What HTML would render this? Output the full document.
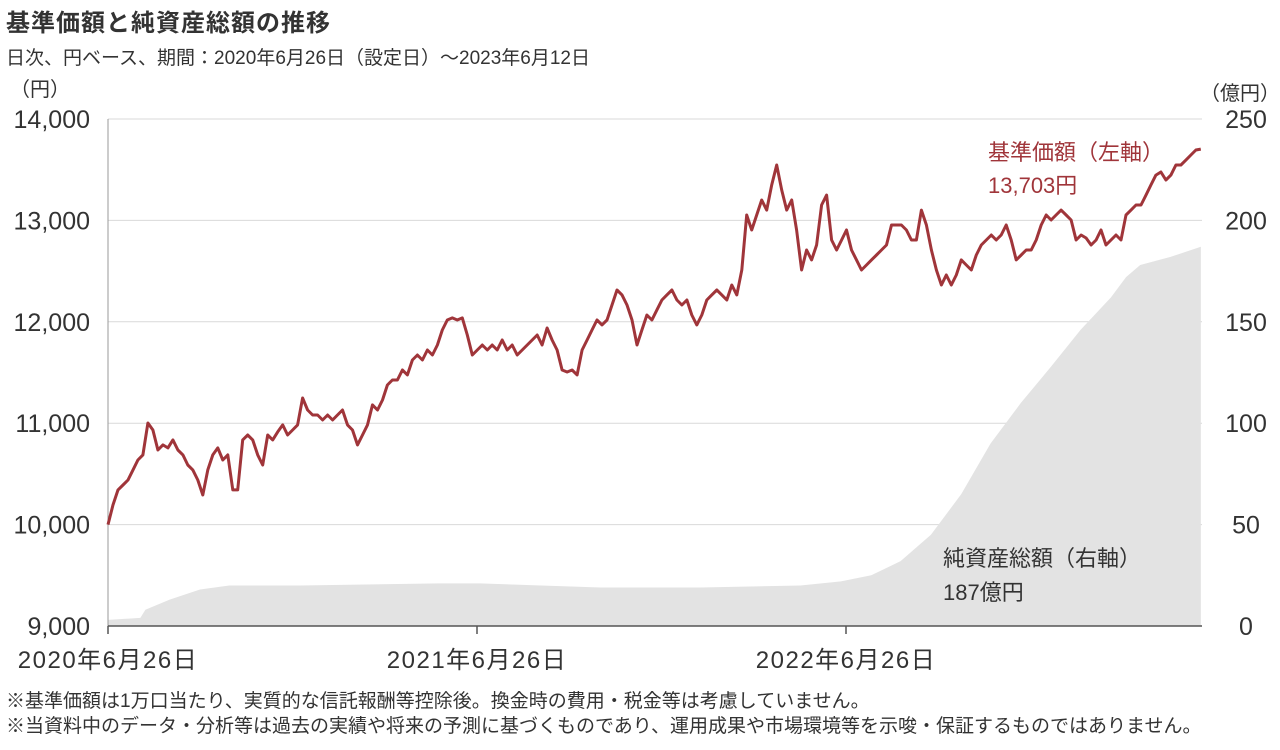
<!DOCTYPE html>
<html><head><meta charset="utf-8">
<style>
body{margin:0;background:#fff;font-family:"Liberation Sans","Noto Sans CJK JP",sans-serif;color:#333;}
#wrap{position:relative;width:1280px;height:750px;overflow:hidden;}
.t{position:absolute;white-space:nowrap;}
</style></head><body>
<div id="wrap">
<div class="t" style="left:6px;top:3px;font-size:24px;font-weight:bold;color:#333;letter-spacing:1px">基準価額と純資産総額の推移</div>
<div class="t" style="left:6px;top:43px;font-size:19px;color:#333">日次、円ベース、期間：2020年6月26日（設定日）～2023年6月12日</div>
<div class="t" style="left:6px;top:686px;font-size:19px;color:#333">※基準価額は1万口当たり、実質的な信託報酬等控除後。換金時の費用・税金等は考慮していません。</div>
<div class="t" style="left:6px;top:711px;font-size:19px;color:#333">※当資料中のデータ・分析等は過去の実績や将来の予測に基づくものであり、運用成果や市場環境等を示唆・保証するものではありません。</div>
<svg id="chart" width="1280" height="750" style="position:absolute;left:0;top:0"></svg>
</div>
<script>
const leftTicks=[9000,10000,11000,12000,13000,14000];
const rightTicks=[0,50,100,150,200,250];
const dateTickDays=[0,365,730];
const dateTickLabels=["2020年6月26日","2021年6月26日","2022年6月26日"];
const totalDays=1081;
const priceValues=[10000,10194,10342,10391,10440,10539,10637,10687,11002,10933,10736,10786,10756,10835,10736,10687,10588,10539,10440,10292,10539,10687,10756,10637,10687,10342,10342,10835,10884,10835,10687,10588,10884,10835,10914,10983,10884,10933,10983,11249,11130,11081,11081,11032,11081,11032,11081,11130,10983,10933,10786,10884,10983,11180,11130,11229,11377,11426,11426,11525,11476,11623,11673,11623,11722,11673,11771,11919,12018,12038,12018,12038,11870,11673,11722,11771,11722,11771,11722,11821,11722,11771,11673,11722,11771,11821,11870,11771,11939,11821,11722,11525,11505,11525,11476,11722,11821,11919,12018,11969,12018,12166,12314,12265,12166,12018,11771,11919,12067,12018,12117,12215,12265,12314,12215,12166,12215,12067,11969,12067,12215,12265,12314,12265,12215,12363,12265,12511,13053,12905,13053,13201,13102,13349,13546,13300,13102,13201,12905,12511,12708,12610,12757,13152,13250,12807,12708,12807,12905,12708,12610,12511,12560,12610,12659,12708,12757,12955,12955,12955,12905,12807,12807,13102,12955,12708,12511,12363,12462,12363,12462,12610,12560,12511,12659,12757,12807,12856,12807,12856,12955,12807,12610,12659,12708,12708,12807,12955,13053,13004,13053,13102,13053,13004,12807,12856,12826,12757,12807,12905,12757,12807,12856,12807,13053,13102,13152,13152,13250,13349,13447,13477,13398,13447,13546,13546,13595,13645,13694,13703];
const assetDays=[0,32,37,61,91,120,190,328,368,487,586,685,725,755,784,814,844,873,903,933,962,992,1007,1021,1051,1081];
const assetValues=[3,4,8,13,18,20,20,21,21,19,19,20,22,25,32,45,65,90,110,128,146,162,172,178,182,187];

const NS="http://www.w3.org/2000/svg";
const svg=document.getElementById('chart');
const X0=108,X1=1202,YT=119,YB=626;
const xDay=d=>X0+d*369/365;
const yL=v=>YB-(v-9000)/5000*(YB-YT);
const yR=v=>YB-v/250*(YB-YT);
function mk(tag,attrs){const e=document.createElementNS(NS,tag);for(const k in attrs)e.setAttribute(k,attrs[k]);svg.appendChild(e);return e;}

leftTicks.forEach(v=>{
  const g=mk('line',{x1:X0,x2:X1,y1:yL(v),y2:yL(v),stroke:'#d9d9d9','stroke-width':1});
  
  
  const t=mk('text',{x:90,y:yL(v)+9,'text-anchor':'end','font-size':25,fill:'#333'});
  t.textContent=v.toLocaleString('en-US');
  
  
});
rightTicks.forEach(v=>{
  const t=mk('text',{x:1246,y:yR(v)+9,'text-anchor':'middle','font-size':25,fill:'#333'});
  t.textContent=v;
  
  
});
let d=`M${xDay(assetDays[0])},${YB}`;
assetDays.forEach((dd,i)=>{d+=` L${xDay(dd)},${yR(assetValues[i])}`;});
d+=` L${xDay(assetDays[assetDays.length-1])},${YB} Z`;
const area=mk('path',{d:d,fill:'#e3e3e3'});


const ax=mk('line',{x1:X0,x2:X0,y1:YT,y2:YB,stroke:'#999','stroke-width':1});


const bx=mk('line',{x1:X0,x2:X1,y1:YB,y2:YB,stroke:'#555','stroke-width':1.5});


dateTickDays.forEach((dd,i)=>{
  const tk=mk('line',{x1:xDay(dd),x2:xDay(dd),y1:YB,y2:YB+8,stroke:'#555','stroke-width':1.5});
  
  
  const t=mk('text',{x:xDay(dd),y:668,'text-anchor':'middle','font-size':24,'letter-spacing':1.5,fill:'#333'});
  t.textContent=dateTickLabels[i];
  
  
});
const n=priceValues.length;
const pts=priceValues.map((v,i)=>`${xDay(i*totalDays/(n-1)).toFixed(1)},${yL(v).toFixed(1)}`).join(' ');
const pl=mk('polyline',{points:pts,fill:'none',stroke:'#a0353a','stroke-width':3,'stroke-linejoin':'round'});


function txt(x,y,s,fill,name,fs){const t=mk('text',{x:x,y:y,'font-size':fs||22,fill:fill});t.textContent=s;}
txt(10,96,'（円）','#333','left-axis-unit',20);
txt(1200,100,'（億円）','#333','right-axis-unit',20);
txt(988,160,'基準価額（左軸）','#a0353a','price-legend-label');
txt(988,193,'13,703円','#a0353a','price-legend-value');
txt(943,566,'純資産総額（右軸）','#333','assets-legend-label');
txt(943,600,'187億円','#333','assets-legend-value');
</script>
</body></html>
